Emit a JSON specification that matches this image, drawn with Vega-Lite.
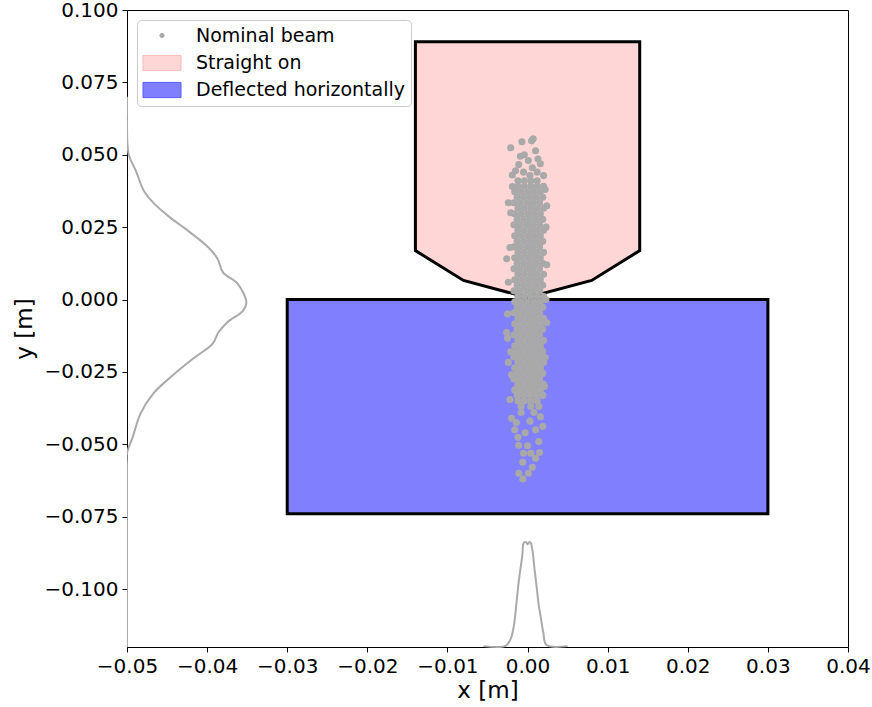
{
  "$schema": "https://vega.github.io/schema/vega-lite/v6.json",
  "width": 721,
  "height": 637,
  "autosize": {"type": "none"},
  "padding": {"left": 127, "top": 10, "right": 24, "bottom": 60},
  "background": "white",
  "config": {
    "font": "DejaVu Sans",
    "view": {"stroke": "black", "strokeWidth": 1},
    "axis": {
      "grid": false,
      "domain": false,
      "tickColor": "black",
      "tickSize": 5,
      "tickWidth": 1,
      "labelFontSize": 20,
      "titleFontSize": 23,
      "titleFontWeight": "normal",
      "labelColor": "black",
      "titleColor": "black",
      "labelPadding": 4,
      "labelOverlap": false,
      "labelBound": false,
      "labelFlush": false
    },
    "legend": {
      "orient": "top-left",
      "offset": 10,
      "padding": 6,
      "fillColor": "white",
      "strokeColor": "#cccccc",
      "cornerRadius": 4,
      "labelFontSize": 19,
      "labelColor": "black",
      "labelLimit": 400,
      "labelOffset": 24,
      "symbolOffset": 9,
      "rowPadding": 7,
      "symbolStrokeWidth": 1,
      "symbolOpacity": 1
    }
  },
  "datasets": {
    "legendrows": [
      {"s": "Nominal beam"},
      {"s": "Straight on"},
      {"s": "Deflected horizontally"}
    ],
    "straight": [
      {"x": -0.014, "top": 0.089, "bottom": 0.0169},
      {"x": -0.008, "top": 0.089, "bottom": 0.0066},
      {"x": 0.0, "top": 0.089, "bottom": 0.0007},
      {"x": 0.008, "top": 0.089, "bottom": 0.0066},
      {"x": 0.014, "top": 0.089, "bottom": 0.0169}
    ],
    "deflected": [
      {"x1": -0.03, "x2": 0.03, "y1": 0.0, "y2": -0.074}
    ],
    "ydist": [
      {"x": -0.05, "y": 0.07},
      {"x": -0.05, "y": 0.065},
      {"x": -0.05, "y": 0.0617},
      {"x": -0.0498, "y": 0.0503},
      {"x": -0.0489, "y": 0.0445},
      {"x": -0.0479, "y": 0.0376},
      {"x": -0.0467, "y": 0.0334},
      {"x": -0.0446, "y": 0.0283},
      {"x": -0.0424, "y": 0.0238},
      {"x": -0.0398, "y": 0.0179},
      {"x": -0.0387, "y": 0.0141},
      {"x": -0.038, "y": 0.0093},
      {"x": -0.0362, "y": 0.0055},
      {"x": -0.0351, "y": -0.001},
      {"x": -0.0355, "y": -0.0038},
      {"x": -0.0375, "y": -0.0079},
      {"x": -0.0386, "y": -0.0114},
      {"x": -0.0393, "y": -0.0152},
      {"x": -0.0417, "y": -0.0203},
      {"x": -0.0446, "y": -0.0269},
      {"x": -0.0467, "y": -0.0324},
      {"x": -0.0483, "y": -0.0393},
      {"x": -0.0493, "y": -0.0476},
      {"x": -0.05, "y": -0.0531},
      {"x": -0.05, "y": -0.057},
      {"x": -0.05, "y": -0.062},
      {"x": -0.05, "y": -0.075},
      {"x": -0.05, "y": -0.095},
      {"x": -0.05, "y": -0.12}
    ],
    "xdist": [
      {"x": -0.0055, "y": -0.1197},
      {"x": -0.00275, "y": -0.1196},
      {"x": -0.00212, "y": -0.1173},
      {"x": -0.00171, "y": -0.1127},
      {"x": -0.00129, "y": -0.1023},
      {"x": -0.00109, "y": -0.0972},
      {"x": -0.00066, "y": -0.0885},
      {"x": -0.00046, "y": -0.0839},
      {"x": -0.0002, "y": -0.0838},
      {"x": 0.0, "y": -0.0845},
      {"x": 0.0002, "y": -0.0838},
      {"x": 0.00037, "y": -0.0839},
      {"x": 0.00059, "y": -0.0862},
      {"x": 0.00087, "y": -0.0931},
      {"x": 0.00112, "y": -0.0989},
      {"x": 0.00141, "y": -0.1058},
      {"x": 0.00162, "y": -0.1092},
      {"x": 0.00196, "y": -0.1149},
      {"x": 0.00237, "y": -0.1193},
      {"x": 0.005, "y": -0.1197}
    ],
    "beam": [
      {"x": -0.0021, "y": 0.0524}, {"x": -0.0007, "y": 0.0545}, {"x": 0.0005, "y": 0.0548}, {"x": 0.0007, "y": 0.0555},
      {"x": 0.001, "y": 0.0514}, {"x": -0.0004, "y": 0.05}, {"x": -0.0011, "y": 0.0466}, {"x": 0.0001, "y": 0.048},
      {"x": 0.0016, "y": 0.0469}, {"x": -0.0015, "y": 0.0445}, {"x": 0.0006, "y": 0.0455}, {"x": 0.002, "y": 0.0428},
      {"x": -0.0005, "y": 0.044}, {"x": 0.0012, "y": 0.044}, {"x": -0.0019, "y": 0.043}, {"x": 0.0003, "y": 0.0428},
      {"x": 0.0013, "y": 0.0485}, {"x": -0.0009, "y": 0.0495},
      {"x": -0.0024, "y": 0.0334}, {"x": -0.0026, "y": 0.0141}, {"x": 0.0024, "y": 0.0324},
      {"x": -0.0021, "y": 0.03}, {"x": 0.0023, "y": 0.025}, {"x": -0.0022, "y": 0.018}, {"x": 0.0024, "y": 0.012},
      {"x": -0.0024, "y": 0.006}, {"x": 0.0023, "y": 0.0}, {"x": -0.0025, "y": -0.005}, {"x": 0.0024, "y": -0.008},
      {"x": -0.0021, "y": -0.018}, {"x": 0.0022, "y": -0.02}, {"x": -0.002, "y": -0.026}, {"x": 0.0021, "y": -0.03},
      {"x": -0.0019, "y": 0.039}, {"x": 0.0022, "y": 0.038},
      {"x": -0.0012, "y": 0.041}, {"x": -0.0004, "y": 0.041}, {"x": 0.0004, "y": 0.041}, {"x": 0.0012, "y": 0.041},
      {"x": -0.0012, "y": 0.0391}, {"x": -0.0004, "y": 0.0391}, {"x": 0.0004, "y": 0.0391}, {"x": 0.0012, "y": 0.0391}, {"x": 0.002, "y": 0.0391},
      {"x": -0.0016, "y": 0.0372}, {"x": -0.0008, "y": 0.0372}, {"x": 0.0, "y": 0.0372}, {"x": 0.0008, "y": 0.0372}, {"x": 0.0016, "y": 0.0372},
      {"x": -0.0013, "y": 0.0353}, {"x": -0.0005, "y": 0.0353}, {"x": 0.0003, "y": 0.0353}, {"x": 0.0011, "y": 0.0353}, {"x": 0.0019, "y": 0.0353},
      {"x": -0.0017, "y": 0.0334}, {"x": -0.0009, "y": 0.0334}, {"x": -0.0001, "y": 0.0334}, {"x": 0.0007, "y": 0.0334}, {"x": 0.0015, "y": 0.0334},
      {"x": -0.0012, "y": 0.0315}, {"x": -0.0004, "y": 0.0315}, {"x": 0.0004, "y": 0.0315}, {"x": 0.0012, "y": 0.0315}, {"x": 0.002, "y": 0.0315},
      {"x": -0.0016, "y": 0.0296}, {"x": -0.0008, "y": 0.0296}, {"x": 0.0, "y": 0.0296}, {"x": 0.0008, "y": 0.0296}, {"x": 0.0016, "y": 0.0296},
      {"x": -0.0013, "y": 0.0277}, {"x": -0.0005, "y": 0.0277}, {"x": 0.0003, "y": 0.0277}, {"x": 0.0011, "y": 0.0277}, {"x": 0.0019, "y": 0.0277},
      {"x": -0.0017, "y": 0.0258}, {"x": -0.0009, "y": 0.0258}, {"x": -0.0001, "y": 0.0258}, {"x": 0.0007, "y": 0.0258}, {"x": 0.0015, "y": 0.0258},
      {"x": -0.0012, "y": 0.0239}, {"x": -0.0004, "y": 0.0239}, {"x": 0.0004, "y": 0.0239}, {"x": 0.0012, "y": 0.0239}, {"x": 0.002, "y": 0.0239},
      {"x": -0.0016, "y": 0.022}, {"x": -0.0008, "y": 0.022}, {"x": 0.0, "y": 0.022}, {"x": 0.0008, "y": 0.022}, {"x": 0.0016, "y": 0.022},
      {"x": -0.0013, "y": 0.0201}, {"x": -0.0005, "y": 0.0201}, {"x": 0.0003, "y": 0.0201}, {"x": 0.0011, "y": 0.0201}, {"x": 0.0019, "y": 0.0201},
      {"x": -0.0017, "y": 0.0182}, {"x": -0.0009, "y": 0.0182}, {"x": -0.0001, "y": 0.0182}, {"x": 0.0007, "y": 0.0182}, {"x": 0.0015, "y": 0.0182},
      {"x": -0.0012, "y": 0.0163}, {"x": -0.0004, "y": 0.0163}, {"x": 0.0004, "y": 0.0163}, {"x": 0.0012, "y": 0.0163}, {"x": 0.002, "y": 0.0163},
      {"x": -0.0016, "y": 0.0144}, {"x": -0.0008, "y": 0.0144}, {"x": 0.0, "y": 0.0144}, {"x": 0.0008, "y": 0.0144}, {"x": 0.0016, "y": 0.0144},
      {"x": -0.0013, "y": 0.0125}, {"x": -0.0005, "y": 0.0125}, {"x": 0.0003, "y": 0.0125}, {"x": 0.0011, "y": 0.0125}, {"x": 0.0019, "y": 0.0125},
      {"x": -0.0017, "y": 0.0106}, {"x": -0.0009, "y": 0.0106}, {"x": -0.0001, "y": 0.0106}, {"x": 0.0007, "y": 0.0106}, {"x": 0.0015, "y": 0.0106},
      {"x": -0.0012, "y": 0.0087}, {"x": -0.0004, "y": 0.0087}, {"x": 0.0004, "y": 0.0087}, {"x": 0.0012, "y": 0.0087}, {"x": 0.002, "y": 0.0087},
      {"x": -0.0016, "y": 0.0068}, {"x": -0.0008, "y": 0.0068}, {"x": 0.0, "y": 0.0068}, {"x": 0.0008, "y": 0.0068}, {"x": 0.0016, "y": 0.0068},
      {"x": -0.0013, "y": 0.0049}, {"x": -0.0005, "y": 0.0049}, {"x": 0.0003, "y": 0.0049}, {"x": 0.0011, "y": 0.0049}, {"x": 0.0019, "y": 0.0049},
      {"x": -0.0017, "y": 0.003}, {"x": -0.0009, "y": 0.003}, {"x": -0.0001, "y": 0.003}, {"x": 0.0007, "y": 0.003}, {"x": 0.0015, "y": 0.003},
      {"x": -0.0012, "y": 0.0011}, {"x": -0.0004, "y": 0.0011}, {"x": 0.0004, "y": 0.0011}, {"x": 0.0012, "y": 0.0011}, {"x": 0.002, "y": 0.0011},
      {"x": -0.0016, "y": -0.0008}, {"x": -0.0008, "y": -0.0008}, {"x": 0.0, "y": -0.0008}, {"x": 0.0008, "y": -0.0008}, {"x": 0.0016, "y": -0.0008},
      {"x": -0.0013, "y": -0.0027}, {"x": -0.0005, "y": -0.0027}, {"x": 0.0003, "y": -0.0027}, {"x": 0.0011, "y": -0.0027}, {"x": 0.0019, "y": -0.0027},
      {"x": -0.0017, "y": -0.0046}, {"x": -0.0009, "y": -0.0046}, {"x": -0.0001, "y": -0.0046}, {"x": 0.0007, "y": -0.0046}, {"x": 0.0015, "y": -0.0046},
      {"x": -0.0012, "y": -0.0065}, {"x": -0.0004, "y": -0.0065}, {"x": 0.0004, "y": -0.0065}, {"x": 0.0012, "y": -0.0065}, {"x": 0.002, "y": -0.0065},
      {"x": -0.0016, "y": -0.0084}, {"x": -0.0008, "y": -0.0084}, {"x": 0.0, "y": -0.0084}, {"x": 0.0008, "y": -0.0084}, {"x": 0.0016, "y": -0.0084},
      {"x": -0.0013, "y": -0.0103}, {"x": -0.0005, "y": -0.0103}, {"x": 0.0003, "y": -0.0103}, {"x": 0.0011, "y": -0.0103}, {"x": 0.0019, "y": -0.0103},
      {"x": -0.0017, "y": -0.0122}, {"x": -0.0009, "y": -0.0122}, {"x": -0.0001, "y": -0.0122}, {"x": 0.0007, "y": -0.0122}, {"x": 0.0015, "y": -0.0122},
      {"x": -0.0012, "y": -0.0141}, {"x": -0.0004, "y": -0.0141}, {"x": 0.0004, "y": -0.0141}, {"x": 0.0012, "y": -0.0141}, {"x": 0.002, "y": -0.0141},
      {"x": -0.0016, "y": -0.016}, {"x": -0.0008, "y": -0.016}, {"x": 0.0, "y": -0.016}, {"x": 0.0008, "y": -0.016}, {"x": 0.0016, "y": -0.016},
      {"x": -0.0013, "y": -0.0179}, {"x": -0.0005, "y": -0.0179}, {"x": 0.0003, "y": -0.0179}, {"x": 0.0011, "y": -0.0179}, {"x": 0.0019, "y": -0.0179},
      {"x": -0.0017, "y": -0.0198}, {"x": -0.0009, "y": -0.0198}, {"x": -0.0001, "y": -0.0198}, {"x": 0.0007, "y": -0.0198}, {"x": 0.0015, "y": -0.0198},
      {"x": -0.0012, "y": -0.0217}, {"x": -0.0004, "y": -0.0217}, {"x": 0.0004, "y": -0.0217}, {"x": 0.0012, "y": -0.0217}, {"x": 0.002, "y": -0.0217},
      {"x": -0.0016, "y": -0.0236}, {"x": -0.0008, "y": -0.0236}, {"x": 0.0, "y": -0.0236}, {"x": 0.0008, "y": -0.0236}, {"x": 0.0016, "y": -0.0236},
      {"x": -0.0013, "y": -0.0255}, {"x": -0.0005, "y": -0.0255}, {"x": 0.0003, "y": -0.0255}, {"x": 0.0011, "y": -0.0255}, {"x": 0.0019, "y": -0.0255},
      {"x": -0.0017, "y": -0.0274}, {"x": -0.0009, "y": -0.0274}, {"x": -0.0001, "y": -0.0274}, {"x": 0.0007, "y": -0.0274}, {"x": 0.0015, "y": -0.0274},
      {"x": -0.0012, "y": -0.0293}, {"x": -0.0004, "y": -0.0293}, {"x": 0.0004, "y": -0.0293}, {"x": 0.0012, "y": -0.0293}, {"x": 0.002, "y": -0.0293},
      {"x": -0.0016, "y": -0.0312}, {"x": -0.0008, "y": -0.0312}, {"x": 0.0, "y": -0.0312}, {"x": 0.0008, "y": -0.0312}, {"x": 0.0016, "y": -0.0312},
      {"x": -0.0013, "y": -0.0331}, {"x": -0.0005, "y": -0.0331}, {"x": 0.0003, "y": -0.0331}, {"x": 0.0011, "y": -0.0331}, {"x": 0.0019, "y": -0.0331},
      {"x": -0.0012, "y": -0.035}, {"x": -0.0004, "y": -0.035}, {"x": 0.0004, "y": -0.035}, {"x": 0.0012, "y": -0.035},
      {"x": -0.0008, "y": -0.0369}, {"x": 0.0004, "y": -0.0369}, {"x": 0.0014, "y": -0.0369},
      {"x": -0.0012, "y": -0.0476}, {"x": -0.0011, "y": -0.0503}, {"x": -0.0005, "y": -0.0531}, {"x": 0.0004, "y": -0.0531},
      {"x": 0.0015, "y": -0.0528}, {"x": 0.001, "y": -0.0548}, {"x": -0.0006, "y": -0.0562}, {"x": 0.0006, "y": -0.0579},
      {"x": -0.0011, "y": -0.06}, {"x": 0.0001, "y": -0.06}, {"x": -0.0006, "y": -0.062}, {"x": 0.0019, "y": -0.0438},
      {"x": -0.002, "y": -0.041}, {"x": -0.0022, "y": -0.0345}, {"x": -0.0025, "y": -0.0134}, {"x": -0.0026, "y": -0.0114},
      {"x": -0.0024, "y": -0.0217}, {"x": -0.0008, "y": -0.039}, {"x": 0.0008, "y": -0.039}, {"x": 0.0016, "y": -0.0405},
      {"x": -0.0014, "y": -0.0425}, {"x": 0.0003, "y": -0.042}, {"x": 0.001, "y": -0.045}, {"x": -0.0003, "y": -0.046},
      {"x": 0.0014, "y": -0.049}, {"x": -0.0016, "y": -0.045}, {"x": 0.0, "y": -0.0505}
    ]
  },
  "layer": [
    {
      "data": {"name": "straight"},
      "mark": {"type": "area", "fill": "#ffd6d6", "stroke": "black", "strokeWidth": 3, "opacity": 1},
      "encoding": {
        "x": {"field": "x", "type": "quantitative",
          "scale": {"domain": [-0.05, 0.04], "nice": false, "zero": false},
          "axis": {"values": [-0.05, -0.04, -0.03, -0.02, -0.01, 0, 0.01, 0.02, 0.03, 0.04], "format": ".2f", "title": "x [m]", "titlePadding": 3}},
        "y": {"field": "top", "type": "quantitative",
          "scale": {"domain": [-0.12, 0.1], "nice": false, "zero": false},
          "axis": {"values": [-0.1, -0.075, -0.05, -0.025, 0, 0.025, 0.05, 0.075, 0.1], "format": ".3f", "title": "y [m]", "titlePadding": 7}},
        "y2": {"field": "bottom"}
      }
    },
    {
      "data": {"name": "deflected"},
      "mark": {"type": "rect", "fill": "#8080ff", "stroke": "black", "strokeWidth": 3, "opacity": 1},
      "encoding": {
        "x": {"field": "x1", "type": "quantitative"},
        "x2": {"field": "x2"},
        "y": {"field": "y1", "type": "quantitative"},
        "y2": {"field": "y2"}
      }
    },
    {
      "data": {"name": "beam"},
      "mark": {"type": "circle", "size": 50, "opacity": 1, "fill": "#a9a9a9"},
      "encoding": {
        "x": {"field": "x", "type": "quantitative"},
        "y": {"field": "y", "type": "quantitative"}
      }
    },
    {
      "data": {"name": "ydist"},
      "mark": {"type": "line", "stroke": "#aaaaaa", "strokeWidth": 2, "interpolate": "catmull-rom", "clip": true},
      "encoding": {
        "x": {"field": "x", "type": "quantitative"},
        "y": {"field": "y", "type": "quantitative"},
        "order": {"field": "y", "type": "quantitative"}
      }
    },
    {
      "data": {"name": "xdist"},
      "mark": {"type": "line", "stroke": "#aaaaaa", "strokeWidth": 2, "interpolate": "catmull-rom"},
      "encoding": {
        "x": {"field": "x", "type": "quantitative"},
        "y": {"field": "y", "type": "quantitative"}
      }
    },
    {
      "data": {"name": "legendrows"},
      "mark": {"type": "point", "filled": true, "opacity": 0, "strokeWidth": 1},
      "encoding": {
        "fill": {"field": "s", "type": "nominal",
          "scale": {"domain": ["Nominal beam", "Straight on", "Deflected horizontally"], "range": ["#a9a9a9", "#ffd6d6", "#8080ff"]},
          "legend": {"title": null}},
        "stroke": {"field": "s", "type": "nominal",
          "scale": {"domain": ["Nominal beam", "Straight on", "Deflected horizontally"], "range": ["#a9a9a9", "#ffb8b8", "#5a5aff"]},
          "legend": {"title": null}},
        "shape": {"field": "s", "type": "nominal",
          "scale": {"domain": ["Nominal beam", "Straight on", "Deflected horizontally"], "range": ["circle", "M-2,-0.8H2V0.8H-2Z", "M-2,-0.8H2V0.8H-2Z"]},
          "legend": {"title": null}},
        "size": {"field": "s", "type": "nominal",
          "scale": {"type": "ordinal", "domain": ["Nominal beam", "Straight on", "Deflected horizontally"], "range": [18, 361, 361]},
          "legend": {"title": null}}
      }
    }
  ]
}
